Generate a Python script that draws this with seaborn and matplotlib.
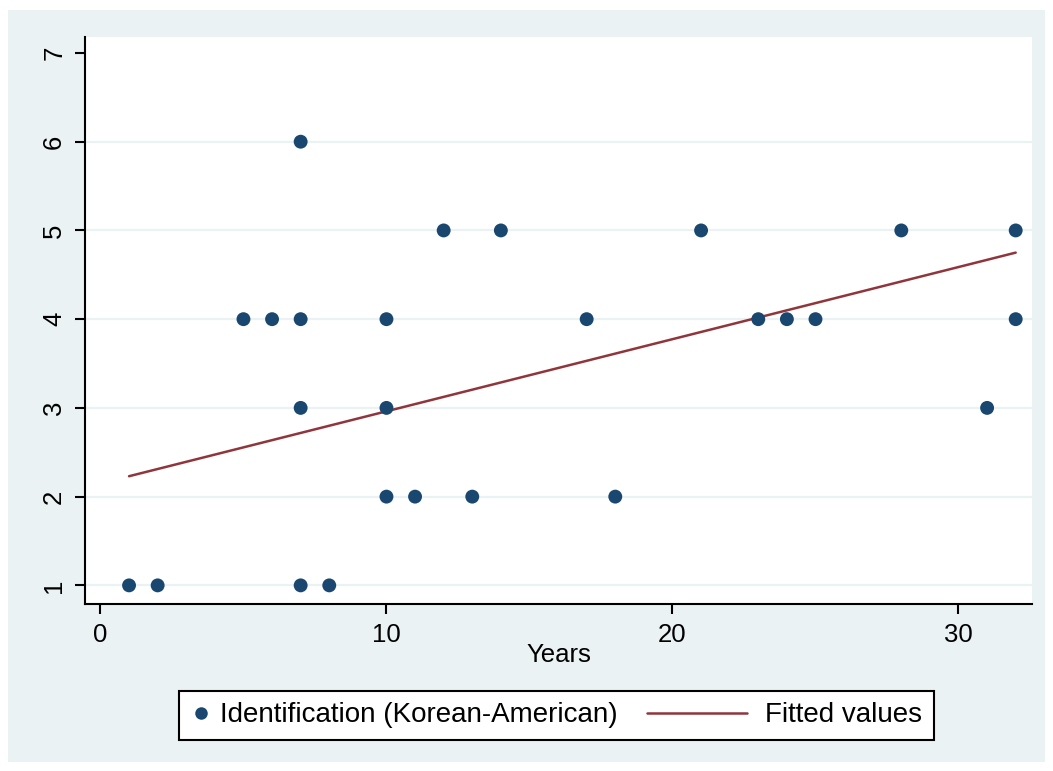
import numpy as np
import pandas as pd
import seaborn as sns
import matplotlib
matplotlib.use("Agg")
import matplotlib.pyplot as plt
from matplotlib.lines import Line2D
from matplotlib.legend_handler import HandlerBase
from matplotlib.patches import Rectangle

# ---- data ----
years = [1, 2, 7, 8,
         10, 11, 13, 18,
         7, 10, 31,
         5, 6, 7, 10, 17, 23, 24, 25, 32,
         12, 14, 21, 28, 32,
         7]
identification = [1, 1, 1, 1,
                  2, 2, 2, 2,
                  3, 3, 3,
                  4, 4, 4, 4, 4, 4, 4, 4, 4,
                  5, 5, 5, 5, 5,
                  6]
fit_x = [1, 32]
fit_y = [2.23, 4.75]
x_ticks = [0, 10, 20, 30]
y_ticks = [1, 2, 3, 4, 5, 6, 7]
series_labels = ["Identification (Korean-American)", "Fitted values"]
x_label = "Years"

NAVY = "#1a476f"
MAROON = "#90353b"
BG = "#eaf2f3"

sns.set_theme(style="white")
plt.rcParams["font.family"] = ["Liberation Sans", "DejaVu Sans"]
plt.rcParams["text.color"] = "black"

W, H = 1053, 771
fig = plt.figure(figsize=(W / 100, H / 100), dpi=100, facecolor="white")
fig.patches.append(Rectangle((8 / W, 9 / H), (1045 - 8) / W, (762 - 10) / H,
                             transform=fig.transFigure, facecolor=BG,
                             edgecolor="none", zorder=-10))
ax = fig.add_axes([85 / W, 1 - 604 / H, (1032 - 85) / W, (604 - 37) / H])
ax.set_zorder(1)
ax.set_facecolor("white")

for yv in y_ticks[:-1]:
    ax.axhline(yv, color=BG, lw=1.6, zorder=0)

df = pd.DataFrame({"years": years, "ident": identification})
sns.scatterplot(data=df, x="years", y="ident", ax=ax, color=NAVY, s=100,
                edgecolor="none", linewidth=0, zorder=3, legend=False)
fit = pd.DataFrame({"x": fit_x, "y": fit_y})
sns.lineplot(data=fit, x="x", y="y", ax=ax, color=MAROON, lw=1.8, zorder=2,
             legend=False)

ax.set_xlim(-0.54, 32.57)
ax.set_ylim(0.79, 7.18)
ax.set_xticks(x_ticks)
ax.set_yticks(y_ticks)
ax.set_xticklabels([str(t) for t in x_ticks])
ax.set_yticklabels([str(t) for t in y_ticks])

for s in ["top", "right"]:
    ax.spines[s].set_visible(False)
for s in ["left", "bottom"]:
    ax.spines[s].set_color("black")
    ax.spines[s].set_linewidth(1.5)

ax.tick_params(direction="out", length=7, width=1.5, color="black",
               labelsize=18.5, labelcolor="black", bottom=True, left=True)
ax.tick_params(axis="x", pad=7)
ax.tick_params(axis="y", pad=6.5, labelrotation=90)
for lab in ax.get_yticklabels():
    lab.set_va("center")
ax.set_xlabel(x_label, fontsize=18.5, labelpad=-3, color="black")
ax.set_ylabel("")
ax.grid(False)


class LongLineHandler(HandlerBase):
    def create_artists(self, legend, orig_handle, xdescent, ydescent,
                       width, height, fontsize, trans):
        x1 = -xdescent + width - 6
        x0 = x1 - 72
        y = -ydescent + height / 2
        ln = Line2D([x0, x1], [y, y], color=orig_handle.get_color(),
                    lw=orig_handle.get_linewidth())
        ln.set_transform(trans)
        return [ln]


h1 = Line2D([], [], marker="o", ls="none", color=NAVY, markersize=9,
            markeredgewidth=0)
h2 = Line2D([], [], color=MAROON, lw=1.8)
leg = fig.legend([h1, h2], series_labels, loc="center",
                 bbox_to_anchor=(556.5 / W, 1 - 715.5 / H), ncol=2,
                 frameon=True, fancybox=False, edgecolor="black",
                 facecolor="white", framealpha=1, fontsize=20,
                 handlelength=0.7, handletextpad=0.33, columnspacing=4.28,
                 borderpad=0.42, handler_map={h2: LongLineHandler()})
leg.get_frame().set_linewidth(1.5)
for t in leg.get_texts():
    t.set_color("black")

fig.savefig("out.png", dpi=100, facecolor="white")
